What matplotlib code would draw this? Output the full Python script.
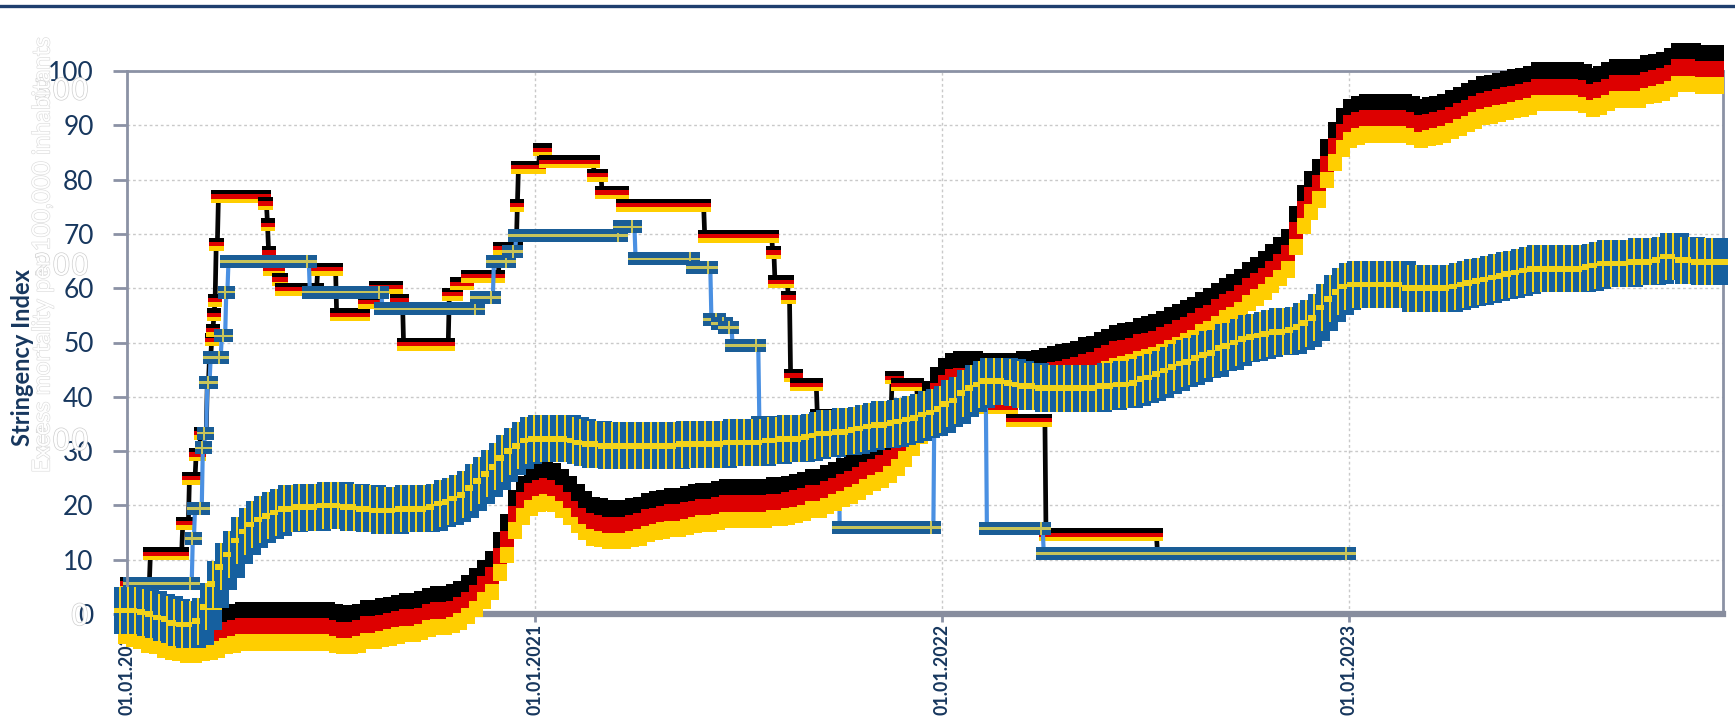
import numpy as np
import pandas as pd
import matplotlib
matplotlib.use("Agg")
import matplotlib.pyplot as plt
import matplotlib.dates as mdates
import matplotlib.patheffects as pe
from matplotlib.collections import PolyCollection
from matplotlib.transforms import IdentityTransform
from matplotlib.lines import Line2D

plt.rcParams['font.family'] = ['Lato', 'DejaVu Sans']

# ---------------- data ----------------
# Stringency index, change points (value holds until next date)
de_dates = ['2020-01-01', '2020-01-22', '2020-02-20', '2020-02-26', '2020-03-03', '2020-03-07',
            '2020-03-13', '2020-03-15', '2020-03-17', '2020-03-18', '2020-03-19', '2020-03-20',
            '2020-03-21', '2020-03-23', '2020-05-04', '2020-05-06', '2020-05-07', '2020-05-08',
            '2020-05-16', '2020-05-19', '2020-06-20', '2020-07-07', '2020-08-01', '2020-08-11',
            '2020-08-30', '2020-09-05', '2020-10-16', '2020-10-23', '2020-11-02', '2020-11-30',
            '2020-12-16', '2020-12-17', '2021-01-05', '2021-01-11', '2021-02-23', '2021-03-02',
            '2021-03-21', '2021-06-02', '2021-08-02', '2021-08-04', '2021-08-16', '2021-08-18',
            '2021-08-24', '2021-09-11', '2021-11-17', '2021-11-22', '2021-12-10', '2022-03-05',
            '2022-04-04', '2022-07-13']
de_vals = [5.6, 11.1, 16.7, 25.0, 29.4, 33.3,
           42.6, 47.2, 50.5, 52.3, 55.1, 57.8,
           68.1, 76.9, 75.6, 71.7, 66.6, 63.5,
           61.6, 59.8, 63.5, 55.1, 57.4, 60.2,
           57.8, 49.7, 58.9, 60.8, 62.2, 67.4,
           75.3, 82.3, 85.5, 83.3, 80.8, 77.6,
           75.3, 69.6, 66.6, 61.2, 58.3, 43.9,
           42.2, 36.5, 43.5, 42.2, 38.0, 35.7,
           14.6, 11.1]

se_dates = ['2020-01-01', '2020-01-05', '2020-02-29', '2020-03-02', '2020-03-09', '2020-03-11',
            '2020-03-13', '2020-03-16', '2020-03-26', '2020-03-30', '2020-04-01', '2020-06-13',
            '2020-08-17', '2020-11-11', '2020-11-25', '2020-12-09', '2020-12-15', '2021-03-19',
            '2021-04-01', '2021-05-23', '2021-06-08', '2021-06-15', '2021-06-21', '2021-06-27',
            '2021-07-21', '2021-10-01', '2021-12-25', '2022-02-10', '2022-04-02']
se_vals = [0.0, 5.6, 13.9, 19.4, 30.6, 33.3,
           42.6, 47.2, 51.2, 59.3, 64.9, 59.3,
           56.2, 58.3, 64.9, 66.8, 69.7, 71.3,
           65.4, 63.8, 54.2, 53.5, 52.8, 49.5,
           35.2, 15.9, 40.7, 15.8, 11.1]
stringency_end = '2022-12-31'

# Weekly series on the secondary (ghost) axis
band_start = '2019-12-30'
de_band = [-3, -5, -6, -8, -9, -11, -12, -13, -14, -14,
           -13, -12, -11, -9, -8, -7, -7, -7, -7, -7,
           -7, -7, -7, -7, -7, -7, -7, -8, -9, -9,
           -8, -6, -6, -5, -4, -3, -2, -2, -1, 1,
           2, 2, 3, 5, 8, 12, 17, 22, 33, 43,
           57, 65, 70, 72, 73, 72, 69, 65, 60, 56,
           53, 52, 51, 51, 51, 52, 53, 55, 56, 57,
           58, 58, 59, 60, 61, 61, 62, 63, 63, 63,
           63, 63, 63, 64, 64, 65, 66, 67, 69, 69,
           71, 73, 75, 77, 79, 82, 84, 86, 89, 93,
           98, 104, 111, 119, 127, 132, 135, 136, 136, 136,
           135, 135, 135, 135, 135, 136, 136, 137, 138, 139,
           140, 141, 142, 144, 145, 147, 149, 151, 152, 153,
           155, 156, 157, 159, 161, 163, 165, 167, 170, 172,
           175, 178, 180, 183, 187, 190, 193, 197, 201, 206,
           219, 231, 239, 246, 257, 267, 275, 280, 282, 283,
           283, 283, 283, 283, 283, 282, 280, 281, 282, 283,
           285, 287, 289, 291, 293, 294, 295, 296, 297, 298,
           299, 301, 301, 301, 301, 301, 301, 300, 298, 299,
           301, 303, 303, 303, 303, 305, 306, 307, 309, 312,
           312, 312, 311, 311, 311]
se_band = [2, 2, 2, 1, 0, -2, -3, -5, -6, -6,
           -4, 4, 17, 27, 34, 42, 47, 51, 54, 56,
           58, 60, 60, 61, 61, 61, 62, 62, 62, 61,
           61, 60, 60, 59, 59, 59, 60, 60, 60, 60,
           61, 63, 64, 66, 68, 72, 76, 80, 84, 89,
           93, 96, 99, 100, 100, 100, 100, 100, 99, 98,
           97, 97, 96, 96, 96, 96, 96, 96, 96, 96,
           96, 96, 97, 97, 97, 97, 97, 97, 98, 98,
           98, 98, 98, 99, 99, 100, 100, 100, 101, 102,
           103, 103, 104, 104, 105, 106, 107, 108, 108, 109,
           110, 111, 112, 114, 115, 117, 120, 122, 126, 129,
           131, 133, 133, 133, 132, 131, 130, 130, 129, 129,
           129, 129, 129, 129, 129, 129, 130, 130, 131, 131,
           132, 134, 135, 137, 139, 141, 143, 144, 146, 148,
           149, 152, 153, 155, 157, 158, 159, 160, 161, 161,
           162, 164, 166, 169, 175, 180, 184, 187, 188, 188,
           188, 188, 188, 188, 188, 186, 186, 186, 186, 186,
           186, 187, 188, 189, 190, 191, 192, 193, 194, 195,
           196, 197, 197, 197, 197, 197, 197, 197, 198, 199,
           200, 200, 200, 200, 201, 201, 201, 202, 204, 204,
           202, 202, 201, 201, 201]

y_ticks = [0, 10, 20, 30, 40, 50, 60, 70, 80, 90, 100]
y2_ticks = [0, 100, 200, 300]
x_tick_dates = ['2020-01-01', '2021-01-01', '2022-01-01', '2023-01-01']
x_tick_labels = ['01.01.2020', '01.01.2021', '01.01.2022', '01.01.2023']
y_label = 'Stringency Index'
y2_label = 'Excess mortality per 100,000 inhabitants'

# ---------------- styles ----------------
NAVY = '#17375e'
GRAY = '#8b92a5'
BLACK, RED, GOLD = '#000000', '#dd0000', '#ffce00'
SBLUE, SYEL = '#16609f', '#f2d31b'
SBLUE2, SYEL2 = '#1a5d96', '#c8c45a'


def rect(x0, x1, y0, y1):
    return [(x0, y0), (x1, y0), (x1, y1), (x0, y1)]


def daily(dates, vals, end):
    s = pd.Series(vals, index=pd.to_datetime(dates))
    idx = pd.date_range(dates[0], end, freq='D')
    return idx, s.reindex(idx, method='ffill').to_numpy()


def flags(axis, xdates, yvals, parts, zorder):
    xn = mdates.date2num(pd.DatetimeIndex(xdates).to_pydatetime())
    verts, cols, offs = [], [], []
    for xv, yv in zip(xn, yvals):
        for v, c in parts:
            verts.append(v)
            cols.append(c)
            offs.append((xv, yv))
    pc = PolyCollection(verts, facecolors=cols, edgecolors='none',
                        offsets=np.array(offs), offset_transform=axis.transData,
                        transform=IdentityTransform(), zorder=zorder,
                        antialiaseds=False)
    axis.add_collection(pc, autolim=False)
    pc.set_clip_on(False)
    return pc


DPI = 100
W, H = 1735, 727
fig = plt.figure(figsize=(W / DPI, H / DPI), dpi=DPI)
L, R, T, B = 127, 1723, 71, 614
ax = fig.add_axes([L / W, 1 - B / H, (R - L) / W, (B - T) / H])
ax2 = ax.twinx()

# German flag (stringency marker) 14x13 px
gw, gh = 7, 6.5
de_flag = [(rect(-gw, gw, gh / 3, gh), BLACK), (rect(-gw, gw, -gh / 3, gh / 3), RED),
           (rect(-gw, gw, -gh, -gh / 3), GOLD)]
# Swedish flag (stringency marker) 16x13 px
sw, sh = 8, 6.5
se_flag = [(rect(-sw, sw, -sh, sh), SBLUE2), (rect(-sw, sw, -1.3, 1.3), SYEL2),
           (rect(-3, -1, -sh, sh), SYEL2)]
# Band markers
bw, bh = 7, 24.5
de_bflag = [(rect(-bw, bw, bh / 3, bh), BLACK), (rect(-bw, bw, -bh / 3, bh / 3), RED),
            (rect(-bw, bw, -bh, -bh / 3), GOLD)]
qw, qh = 11, 23.5
se_bflag = [(rect(-qw, qw, -qh, qh), SBLUE), (rect(-6, -4, -qh, qh), SYEL),
            (rect(-qw, qw, -2.8, 2.8), SYEL)]

de_idx, de_daily = daily(de_dates, de_vals, stringency_end)
se_idx, se_daily = daily(se_dates, se_vals, stringency_end)

ax.plot(de_idx, de_daily, color='#050505', lw=3.4, zorder=2.0, solid_joinstyle='miter')
flags(ax, de_idx, de_daily, de_flag, 2.1)
ax.plot(se_idx, se_daily, color='#4a90e2', lw=3.0, zorder=2.2)
flags(ax, se_idx, se_daily, se_flag, 2.3)

band_idx = pd.date_range(band_start, periods=len(de_band), freq='7D')
flags(ax2, band_idx, de_band, de_bflag, 2.4)
flags(ax2, band_idx, se_band, se_bflag, 2.5)

# ---------------- axes ----------------
ax.set_ylim(0, 100)
ax2.set_ylim(0, 310)
ax.set_xlim(mdates.date2num(pd.Timestamp('2020-01-01').to_pydatetime()),
            mdates.date2num(pd.Timestamp('2023-12-02').to_pydatetime()))

ax.set_yticks(y_ticks)
ax.set_yticklabels([str(t) for t in y_ticks])
ax.tick_params(axis='y', colors=GRAY, labelcolor=NAVY, length=10, width=2, pad=14,
               labelsize=19)
xt = mdates.date2num(pd.to_datetime(x_tick_dates).to_pydatetime())
ax.set_xticks(xt)
ax.set_xticklabels(x_tick_labels, rotation=90, fontweight='bold', va='top', ha='center')
ax.tick_params(axis='x', colors=GRAY, labelcolor=NAVY, length=6, width=2, pad=1,
               labelsize=12.8)

ax.grid(True, axis='both', color='#c9c9c9', linestyle=(0, (2, 2)), linewidth=1.0)
ax.set_axisbelow(True)
for side in ['left', 'right', 'top']:
    ax.spines[side].set_color(GRAY)
    ax.spines[side].set_linewidth(2)
ax.spines['bottom'].set_color('#878d9e')
ax.spines['bottom'].set_linewidth(4.5)
for s in ax2.spines.values():
    s.set_visible(False)

ax2.yaxis.set_ticks_position('left')
ax2.set_yticks(y2_ticks)
ax2.set_yticklabels([str(t) for t in y2_ticks])
ax2.tick_params(axis='y', left=False, right=False, labelleft=True, labelright=False,
                pad=24, labelsize=21, labelcolor='white')
for lbl in ax2.get_yticklabels():
    lbl.set_family(['Liberation Sans Narrow', 'DejaVu Sans'])
    lbl.set_path_effects([pe.withStroke(linewidth=1.0, foreground='#cfcfcf')])

fig.add_artist(Line2D([0, 1], [1 - 6 / H, 1 - 6 / H], transform=fig.transFigure,
                      color='#1f3f6e', lw=2.4, zorder=1))

fig.text(22 / W, 1 - 358 / H, y_label, rotation=90, ha='center', va='center',
         fontsize=17, fontweight='bold', color=NAVY)
fig.text(43 / W, 1 - 255 / H, y2_label, rotation=90, ha='center', va='center',
         fontsize=17.5, color='white', zorder=5,
         path_effects=[pe.withStroke(linewidth=0.9, foreground='#dcdcdc')])

fig.savefig('out.png', dpi=DPI)
